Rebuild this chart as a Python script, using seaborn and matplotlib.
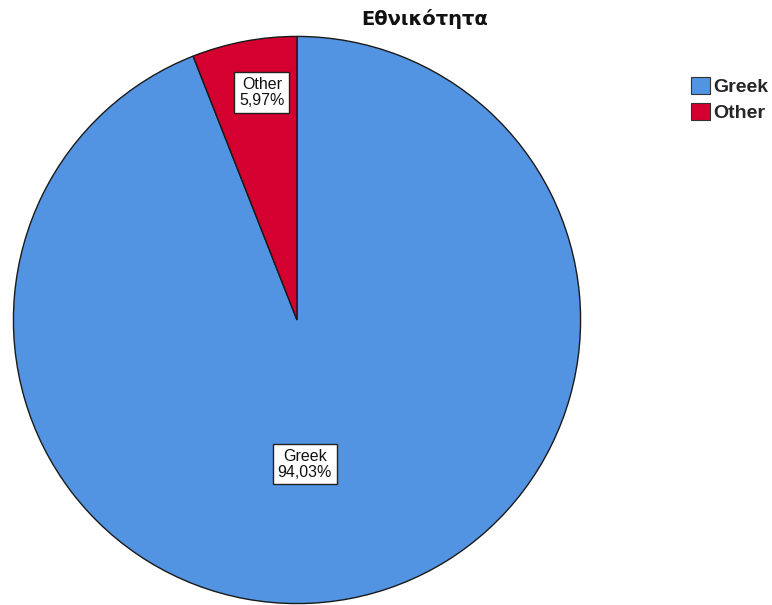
import matplotlib
matplotlib.use("Agg")
import matplotlib.pyplot as plt
import seaborn as sns
from matplotlib.patches import Patch

categories = ["Greek", "Other"]
percentages = [94.03, 5.97]
value_labels = ["94,03%", "5,97%"]
colors = ["#5294E2", "#D4002F"]
title = "Εθνικότητα"

# Where each category box sits inside the pie (pie radius = 1)
label_xy = [(0.027, -0.509), (-0.124, 0.802)]

sns.set_theme(style="white")
plt.rcParams["font.family"] = ["Liberation Sans", "DejaVu Sans"]

fig = plt.figure(figsize=(7.72, 6.05), dpi=100)
ax = fig.add_axes([12 / 772, 0 / 605, 570 / 772, 570 / 605])

wedges, _ = ax.pie(
    percentages,
    colors=colors,
    startangle=90,
    counterclock=False,
    radius=1.0,
    wedgeprops=dict(edgecolor="#1a1a1a", linewidth=1.0),
)
ax.set_xlim(-1.005, 1.005)
ax.set_ylim(-1.005, 1.005)
ax.set_aspect("equal")
ax.axis("off")

for (x, y), cat, lab in zip(label_xy, categories, value_labels):
    ax.text(x, y, f"{cat}\n{lab}", ha="center", va="center", fontsize=11.5,
            linespacing=1.05, color="#111111",
            bbox=dict(boxstyle="square,pad=0.3", facecolor="white",
                      edgecolor="#222222", linewidth=1.0))

fig.text(425 / 772, 1 - 19 / 605, title, ha="center", va="center",
         fontsize=14, fontweight="bold", color="#111111",
         family=["DejaVu Sans"])

handles = [Patch(facecolor=c, edgecolor="#333333", linewidth=0.8) for c in colors]
fig.legend(handles, categories, loc="upper left",
           bbox_to_anchor=(691 / 772, 1 - 77 / 605), frameon=False,
           prop=dict(size=14, weight="bold"), handlelength=0.98,
           handleheight=1.0, handletextpad=0.15, labelspacing=0.33,
           borderpad=0.0, borderaxespad=0.0)

fig.savefig("out.png", dpi=100, facecolor="white")
